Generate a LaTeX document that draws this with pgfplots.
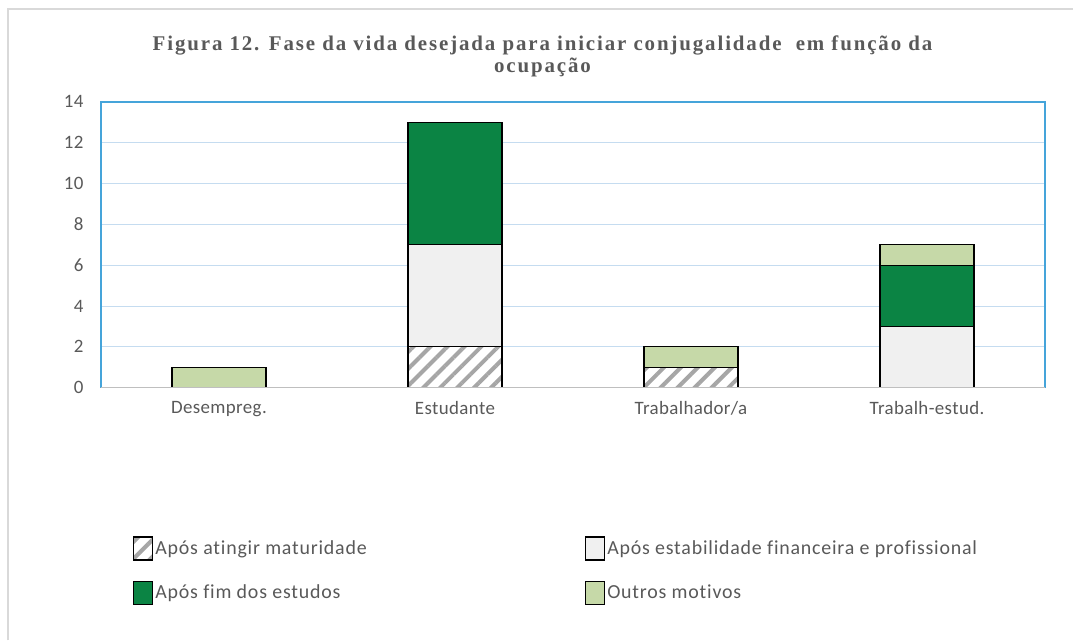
\documentclass[border=0pt]{standalone}
\usepackage{fontspec}
\setmainfont{Carlito}[Ligatures=NoCommon]
\newfontfamily\tickfont{Carlito}[LetterSpace=2]
\newfontfamily\legfont{Carlito}[LetterSpace=4,Ligatures=NoCommon]
\newfontfamily\titlefont{Liberation Serif}[LetterSpace=9]
\usepackage{pgfplots}
\pgfplotsset{compat=1.18}
\usetikzlibrary{patterns.meta}
\definecolor{txt}{HTML}{595959}
\definecolor{dgreen}{HTML}{0B8444}
\definecolor{lgreen}{HTML}{C6D9A8}
\definecolor{lgray}{HTML}{F0F0F0}
\definecolor{frameblue}{HTML}{45A4DA}
\definecolor{gridblue}{HTML}{C5DCF0}
\definecolor{axisgray}{HTML}{BFBFBF}
\definecolor{hatchgray}{HTML}{A6A6A6}
\pgfplotsset{sqlegend/.style={legend image code/.code={\draw[##1,line width=1.3bp,draw=black] (0bp,-11.5bp) rectangle (19bp,11.5bp);}}}
\begin{document}
\begin{tikzpicture}
\fill[white] (0bp,0bp) rectangle (1074bp,641bp);
\draw[black!15, line width=2bp] (8bp,0bp) -- (8bp,632bp) -- (1074bp,632bp);
\node[font=\titlefont\bfseries\fontsize{21}{21.5}\selectfont, text=txt, align=center] at (543bp,584.5bp) {Figura 12. Fase da vida desejada para iniciar conjugalidade \ em função da\\ocupação};
\begin{axis}[
  at={(101bp,253bp)}, anchor=south west,
  scale only axis, width=945bp, height=286bp,
  ybar stacked, bar width=94bp,
  xmin=-0.5, xmax=3.5, ymin=0, ymax=14,
  xtick={0,1,2,3},
  xticklabels={Desempreg.,Estudante,Trabalhador/a,Trabalh-estud.},
  ytick={0,2,...,14},
  ymajorgrids, grid style={gridblue, line width=0.8bp},
  axis line style={draw=none},
  major tick length=0pt,
  tick label style={font=\tickfont\fontsize{19}{22}\selectfont, text=txt},
  yticklabel style={xshift=-14bp},
  xticklabel style={yshift=-10bp},
  /pgf/number format/assume math mode=true,
  legend columns=2,
  legend cell align=left,
  legend style={draw=none, fill=none, inner sep=0pt,
    at={(axis description cs:0.0339,-0.52)}, anchor=north west,
    font=\legfont\fontsize{20}{23}\selectfont, text=txt,
    /tikz/every odd column/.append style={column sep=0bp},
    row sep=20bp},
  after end axis/.code={
    \draw[frameblue, line width=1.6bp] (rel axis cs:0,0) -- (rel axis cs:0,1) -- (rel axis cs:1,1) -- (rel axis cs:1,0);
    \draw[axisgray, line width=1.3bp] (rel axis cs:0,0) -- (rel axis cs:1,0);
  },
]
\addplot+[sqlegend, draw=black, line width=1.3bp, pattern={Lines[angle=45,distance=12bp,line width=4bp]}, pattern color=hatchgray]
  coordinates {(0,0) (1,2) (2,1) (3,0)};
\addlegendentry{\makebox[428bp][l]{Após atingir maturidade}}
\addplot+[sqlegend, draw=black, line width=1.3bp, fill=lgray]
  coordinates {(0,0) (1,5) (2,0) (3,3)};
\addlegendentry{Após estabilidade financeira e profissional}
\addplot+[sqlegend, draw=black, line width=1.3bp, fill=dgreen]
  coordinates {(0,0) (1,6) (2,0) (3,3)};
\addlegendentry{\makebox[428bp][l]{Após fim dos estudos}}
\addplot+[sqlegend, draw=black, line width=1.3bp, fill=lgreen]
  coordinates {(0,1) (1,0) (2,1) (3,1)};
\addlegendentry{Outros motivos}
\end{axis}
\end{tikzpicture}
\end{document}
